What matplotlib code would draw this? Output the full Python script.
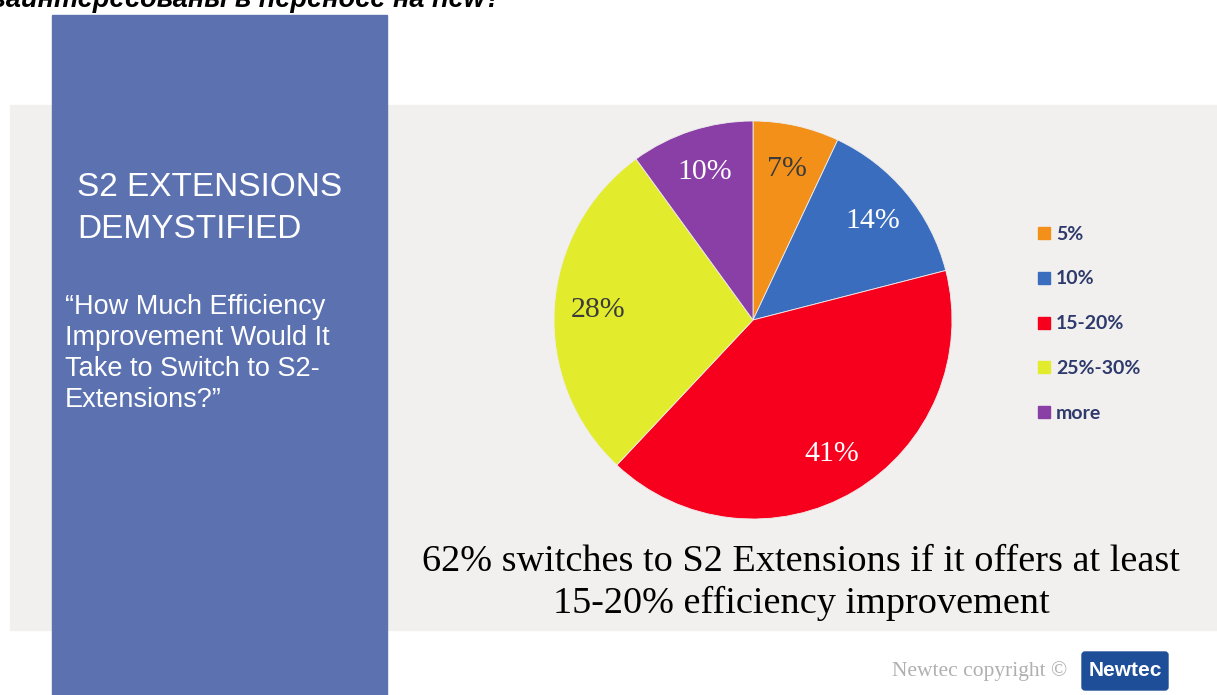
import matplotlib.pyplot as plt
from matplotlib.patches import Rectangle, FancyBboxPatch

# survey answers, clockwise from 12 o'clock
categories = ["5%", "10%", "15-20%", "25%-30%", "more"]
shares = [7, 14, 41, 28, 10]
colors = ["#f39019", "#3a6dbe", "#f7001e", "#e2ec2c", "#8a3fa7"]
label_colors = ["#3b3b3b", "white", "white", "#3b3b3b", "white"]

W, H = 1217, 695
fig = plt.figure(figsize=(W / 100, H / 100), dpi=100)
fig.patch.set_facecolor("white")

# page layer in pixel coordinates
bg = fig.add_axes([0, 0, 1, 1])
bg.set_xlim(0, W)
bg.set_ylim(H, 0)
bg.axis("off")

bg.add_patch(Rectangle((10, 105), W - 10, 525, color="#f1f0ee", zorder=0))
bg.add_patch(Rectangle((52, 15), 335, H - 15, color="#5b71b0", zorder=1))

# heading cut by the top edge
bg.text(-8, 7, "заинтересованы в переносе на new?", fontsize=19.5,
        fontweight="bold", style="italic", family="Liberation Sans",
        color="black", va="baseline", ha="left", zorder=2)

bg.text(77, 188, "S2 EXTENSIONS", fontsize=24, color="white",
        family="Liberation Sans", va="center", zorder=2)
bg.text(77, 230, "DEMYSTIFIED", fontsize=24, color="white",
        family="Liberation Sans", va="center", zorder=2)
question = ["\u201cHow Much Efficiency", "Improvement Would It",
            "Take to Switch to S2-", "Extensions?\u201d"]
for i, line in enumerate(question):
    bg.text(65, 307 + i * 31, line, fontsize=19.5, color="white",
            family="Liberation Sans", va="center", zorder=2)

# legend
for i, (cat, c) in enumerate(zip(categories, colors)):
    y = 233 + i * 44.8
    bg.add_patch(Rectangle((1038, y - 6), 12, 12, color=c, zorder=2))
    bg.text(1056, y + 1, cat, fontsize=14, color="#2e3a6c",
            family="Lato", fontweight="bold", va="center", zorder=2)

bg.text(801, 562, "62% switches to S2 Extensions if it offers at least",
        fontsize=27.5, family="Liberation Serif", color="black",
        ha="center", va="center", zorder=2)
bg.text(801, 603, "15-20% efficiency improvement",
        fontsize=27.5, family="Liberation Serif", color="black",
        ha="center", va="center", zorder=2)

bg.text(1067, 671, "Newtec copyright \u00a9", fontsize=15.5, color="#b0b0b0",
        family="Liberation Serif", ha="right", va="center", zorder=2)
bg.add_patch(FancyBboxPatch((1084, 654), 82, 34,
                            boxstyle="round,pad=2,rounding_size=3",
                            color="#1f4e99", zorder=2))
bg.text(1125, 671, "Newtec", fontsize=15, color="white", fontweight="bold",
        family="Liberation Sans", ha="center", va="center", zorder=3)

# pie
cx, cy, r = 753, 320, 199
ax = fig.add_axes([(cx - r) / W, (H - cy - r) / H, 2 * r / W, 2 * r / H])
wedges, texts, autotexts = ax.pie(
    shares, colors=colors, startangle=90, counterclock=False,
    autopct="%d%%", pctdistance=0.78,
    wedgeprops=dict(edgecolor="#eeeeee", linewidth=0.6),
    textprops=dict(fontsize=21.5, family="Liberation Serif"))
for t, c in zip(autotexts, label_colors):
    t.set_color(c)
ax.set_xlim(-1, 1)
ax.set_ylim(-1, 1)
ax.set_aspect("equal")

fig.savefig("out.png", dpi=100, facecolor=fig.get_facecolor())
